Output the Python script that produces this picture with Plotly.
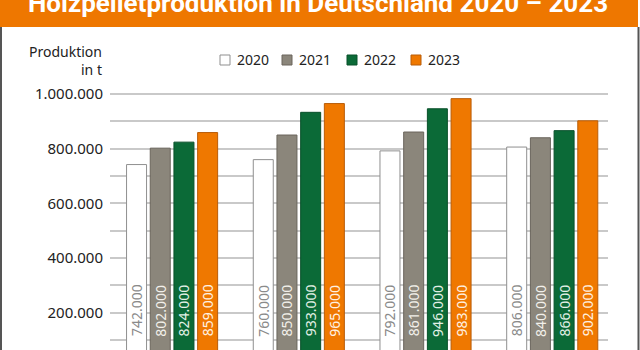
import plotly.graph_objects as go

# ---- data ----
categories = ["1. Quartal", "2. Quartal", "3. Quartal", "4. Quartal"]
years = ["2020", "2021", "2022", "2023"]
prod_2020 = [742000, 760000, 792000, 806000]
prod_2021 = [802000, 850000, 861000, 840000]
prod_2022 = [824000, 933000, 946000, 866000]
prod_2023 = [859000, 965000, 983000, 902000]
series = [prod_2020, prod_2021, prod_2022, prod_2023]
y_ticks = [200000, 400000, 600000, 800000, 1000000]
y_minor = [100000, 300000, 500000, 700000, 900000]

fill_colors = ["#ffffff", "#8b867b", "#0b6a37", "#ef7800"]
line_colors = ["#8f8f8f", "#6a655c", "#08502a", "#b85c08"]
label_colors = ["#8a8a8a", "#f2f0ea", "#e2f0e6", "#fff1e0"]

FONT = "Noto Sans"

def de_fmt(v):
    return f"{v:,.0f}".replace(",", ".")

fig = go.Figure()
xs = list(range(len(categories)))
for i, (yr, vals) in enumerate(zip(years, series)):
    fig.add_trace(go.Bar(
        x=xs, y=vals, name=yr, showlegend=False,
        marker=dict(color=fill_colors[i], line=dict(color=line_colors[i], width=1)),
        hoverinfo="skip",
    ))

# plot area: left 110, right 608 (width 498); top 80, bottom 350 (height 270)
L, W, T, H = 110, 498, 80, 270
def px_x(p):
    return (p - L) / W
def px_y(p):
    return (T + H - p) / H

# bar value labels (rotated, near the bar foot)
pitch_px = 23.7
annotations = []
legend_shapes = []
for i, vals in enumerate(series):
    for k, v in enumerate(vals):
        annotations.append(dict(
            x=xs[k], y=106000, xref="x", yref="y",
            xshift=(i - 1.5) * pitch_px,
            text=de_fmt(v), textangle=-90, showarrow=False,
            xanchor="center", yanchor="bottom",
            font=dict(family=FONT, size=14, color=label_colors[i]),
        ))

# legend (drawn manually to match spacing)
legend_sq_left = [220, 282, 347, 411]
for i, yr in enumerate(years):
    x0 = legend_sq_left[i]
    legend_shapes.append(dict(type="rect", xref="paper", yref="paper",
                              x0=px_x(x0), x1=px_x(x0 + 10), y0=px_y(65), y1=px_y(55),
                              fillcolor=fill_colors[i], line=dict(color=line_colors[i], width=1)))
    annotations.append(dict(
        x=px_x(x0 + 15), y=px_y(60), xref="paper", yref="paper",
        text=yr, showarrow=False, xanchor="left", yanchor="middle",
        font=dict(family=FONT, size=14, color="#222222"),
    ))

# axis title
annotations.append(dict(
    x=px_x(104), y=px_y(61), xref="paper", yref="paper",
    text="Produktion<br>in t", showarrow=False, align="right",
    xanchor="right", yanchor="middle",
    font=dict(family=FONT, size=14, color="#222222"),
))
# header title
annotations.append(dict(
    x=px_x(318), y=px_y(3), xref="paper", yref="paper",
    text="<b>Holzpelletproduktion in Deutschland 2020 – 2023</b>",
    showarrow=False, xanchor="center", yanchor="middle",
    font=dict(family="Roboto", size=26, color="#ffffff"),
))

shapes = [
    dict(type="rect", xref="paper", yref="paper",
         x0=px_x(0), x1=px_x(638), y0=px_y(27), y1=px_y(-5),
         fillcolor="#ee7700", line=dict(width=0), layer="below"),
    dict(type="line", xref="paper", yref="paper",
         x0=px_x(1), x1=px_x(1), y0=px_y(27), y1=px_y(352),
         line=dict(color="#555555", width=2)),
    dict(type="line", xref="paper", yref="paper",
         x0=px_x(638.5), x1=px_x(638.5), y0=px_y(27), y1=px_y(352),
         line=dict(color="#555555", width=2)),
] + legend_shapes

fig.update_layout(
    width=640, height=350,
    margin=dict(l=L, r=640 - L - W, t=T, b=0, pad=0, autoexpand=False),
    paper_bgcolor="#ffffff", plot_bgcolor="#ffffff",
    barmode="group", bargap=0.252, bargroupgap=0.156,
    showlegend=False,
    annotations=annotations, shapes=shapes,
    font=dict(family=FONT),
)
fig.update_xaxes(range=[-0.49, 3.44], tickvals=xs, ticktext=categories,
                 showticklabels=False, automargin=False,
                 showgrid=False, zeroline=False, showline=False, fixedrange=True)
fig.update_yaxes(range=[63985, 1051188],
                 tickvals=y_ticks,
                 ticktext=[de_fmt(v) for v in y_ticks],
                 showgrid=True, gridcolor="#c9c9c9", gridwidth=1.5,
                 minor=dict(tickvals=y_minor,
                            showgrid=True, gridcolor="#c9c9c9", gridwidth=1.5),
                 zeroline=False, showline=False, ticklabelstandoff=6,
                 automargin=False,
                 tickfont=dict(family=FONT, size=15, color="#222222"),
                 fixedrange=True)

fig.write_html("out.html")
